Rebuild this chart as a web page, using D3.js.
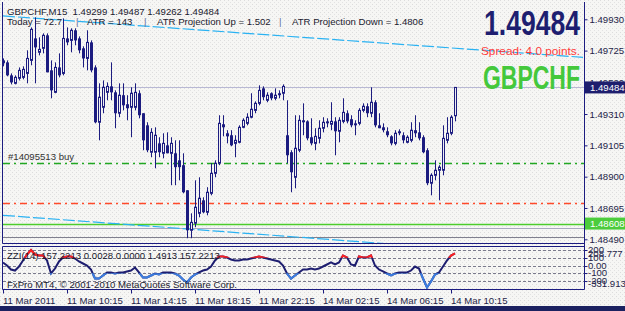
<!DOCTYPE html>
<html><head><meta charset="utf-8">
<script src="https://cdn.jsdelivr.net/npm/d3@7"></script>
<style>html,body{margin:0;padding:0;background:#f6f6f4;overflow:hidden}svg{display:block}text{font-family:"Liberation Sans",Arial,sans-serif}</style>
</head><body><svg id="c" width="625" height="311"></svg>
<script>
// ---------- DATA ----------
const sessions = [{day:"11 Mar", start:"06:15", end:"23:45"}, {day:"14 Mar", start:"00:00", end:"10:30"}];
const open = [
1.49661,1.49648,1.49563,1.49511,1.49544,1.49550,1.49576,1.49661,1.49805,1.49714,
1.49740,1.49825,1.49596,1.49452,1.49615,1.49576,1.49805,1.49792,1.49858,1.49805,
1.49740,1.49674,1.49779,1.49615,1.49256,1.49354,1.49452,1.49491,1.49452,1.49315,
1.49433,1.49374,1.49354,1.49354,1.49446,1.49315,1.49236,1.49060,1.49060,1.49118,
1.49053,1.49105,1.49053,1.49053,1.49007,1.48975,1.48811,1.48549,1.48595,1.48660,
1.48745,1.48667,1.48791,1.48922,1.48988,1.49243,1.49184,1.49171,1.49118,1.49125,
1.49223,1.49249,1.49289,1.49334,1.49380,1.49478,1.49400,1.49446,1.49413,1.49446,
1.49446,1.49171,1.49060,1.48896,1.49073,1.49269,1.49262,1.49158,1.49118,1.49151,
1.49217,1.49262,1.49243,1.49262,1.49197,1.49262,1.49315,1.49276,1.49249,1.49249,
1.49334,1.49361,1.49315,1.49387,1.49236,1.49223,1.49197,1.49164,1.49118,1.49197,
1.49171,1.49125,1.49138,1.49204,1.49190,1.49158,1.49073,1.48857,1.48909,1.48942,
1.48942,1.49138,1.49184,1.49299];
const high = [
1.49674,1.49661,1.49576,1.49563,1.49615,1.49622,1.49727,1.49877,1.49943,1.49812,
1.49838,1.49838,1.49661,1.49648,1.49707,1.49936,1.49877,1.49871,1.49871,1.49818,
1.49753,1.49858,1.49792,1.49629,1.49511,1.49530,1.49517,1.49648,1.49465,1.49511,
1.49511,1.49433,1.49485,1.49511,1.49465,1.49315,1.49256,1.49217,1.49223,1.49158,
1.49184,1.49190,1.49158,1.49138,1.49138,1.49053,1.48811,1.48660,1.48876,1.48896,
1.48765,1.48831,1.48988,1.49007,1.49302,1.49302,1.49204,1.49204,1.49171,1.49236,
1.49282,1.49315,1.49446,1.49393,1.49498,1.49491,1.49452,1.49452,1.49478,1.49465,
1.49504,1.49400,1.49073,1.49302,1.49302,1.49380,1.49269,1.49282,1.49217,1.49269,
1.49289,1.49282,1.49387,1.49289,1.49289,1.49413,1.49334,1.49302,1.49269,1.49348,
1.49380,1.49380,1.49485,1.49400,1.49315,1.49249,1.49223,1.49171,1.49204,1.49210,
1.49190,1.49171,1.49256,1.49302,1.49256,1.49171,1.49086,1.48922,1.49007,1.48975,
1.49236,1.49289,1.49302,1.49487];
const low = [
1.49622,1.49557,1.49504,1.49504,1.49530,1.49537,1.49511,1.49629,1.49511,1.49694,
1.49707,1.49583,1.49413,1.49446,1.49550,1.49563,1.49760,1.49714,1.49760,1.49707,
1.49615,1.49596,1.49583,1.49249,1.49138,1.49315,1.49400,1.49400,1.49217,1.49289,
1.49334,1.49269,1.49158,1.49334,1.49282,1.49073,1.49060,1.49027,1.48955,1.49027,
1.49020,1.49053,1.48844,1.48844,1.48876,1.48791,1.48497,1.48497,1.48569,1.48634,
1.48660,1.48647,1.48778,1.48896,1.48975,1.49164,1.49118,1.49099,1.49027,1.49118,
1.49217,1.49236,1.49282,1.49315,1.49367,1.49400,1.49387,1.49400,1.49400,1.49413,
1.49400,1.48988,1.48798,1.48824,1.49060,1.49171,1.49138,1.49105,1.49073,1.49118,
1.49190,1.49223,1.49204,1.49040,1.49125,1.49249,1.49249,1.49223,1.49171,1.49236,
1.49321,1.49289,1.49289,1.49223,1.49217,1.49190,1.49158,1.49105,1.49105,1.49171,
1.49118,1.49118,1.49125,1.49158,1.49138,1.49053,1.48844,1.48778,1.48876,1.48745,
1.48909,1.49118,1.49171,1.49262];
const close = [
1.49642,1.49563,1.49517,1.49550,1.49596,1.49602,1.49674,1.49864,1.49746,1.49733,
1.49825,1.49583,1.49465,1.49615,1.49563,1.49805,1.49779,1.49858,1.49792,1.49727,
1.49674,1.49779,1.49596,1.49256,1.49420,1.49485,1.49491,1.49452,1.49315,1.49433,
1.49367,1.49348,1.49446,1.49452,1.49302,1.49138,1.49073,1.49190,1.49171,1.49060,
1.49118,1.49053,1.49118,1.48962,1.48962,1.48798,1.48549,1.48601,1.48700,1.48759,
1.48667,1.48798,1.48922,1.48988,1.49249,1.49223,1.49164,1.49105,1.49138,1.49223,
1.49269,1.49289,1.49341,1.49380,1.49465,1.49420,1.49433,1.49413,1.49433,1.49433,
1.49491,1.49040,1.48929,1.49086,1.49269,1.49256,1.49151,1.49118,1.49164,1.49217,
1.49256,1.49249,1.49262,1.49197,1.49269,1.49321,1.49262,1.49236,1.49236,1.49334,
1.49361,1.49315,1.49387,1.49236,1.49217,1.49204,1.49171,1.49118,1.49184,1.49184,
1.49138,1.49158,1.49204,1.49184,1.49151,1.49060,1.48857,1.48909,1.48942,1.48962,
1.49151,1.49184,1.49289,1.49484];
const zzi = [
39,0,-52,-65,-13,65,142,200,142,129,
129,65,-103,-39,52,103,116,116,90,52,
26,0,-52,-168,-168,-129,-90,-90,-103,-90,
-90,-77,-65,-26,-90,-155,-155,-129,-103,-116,
-90,-90,-90,-103,-129,-181,-219,-155,-116,-90,
-65,-52,-13,65,116,116,103,77,65,65,
77,77,90,103,116,103,90,77,65,52,
0,-103,-168,-129,-90,-52,-52,-39,-52,-39,
-13,13,39,13,39,129,103,13,0,116,
103,103,129,0,-52,-77,-103,-129,-103,-90,
-90,-90,-65,-13,-39,-168,-284,-206,-116,-90,
-13,65,129,157.2213];
const priceTicks = [1.49930, 1.49725, 1.49520, 1.49310, 1.49105, 1.48900, 1.48695, 1.48490];
const timeTickBars = ["11 Mar 06:15","11 Mar 10:15","11 Mar 14:15","11 Mar 18:15","11 Mar 22:15","14 Mar 02:15","14 Mar 06:15","14 Mar 10:15"];
const timeTickLabels = ["11 Mar 2011","11 Mar 10:15","11 Mar 14:15","11 Mar 18:15","11 Mar 22:15","14 Mar 02:15","14 Mar 06:15","14 Mar 10:15"];
const zziLevels = [200, 100, 0, -100, -200];
const zziLevelLabels = ["200", "100", "0.00", "-100", "-200"];
const zziMax = "208.777", zziMin = "-331.913";
const hLinePrices = [1.49484, 1.48990, 1.48730, 1.48593, 1.48564, 1.48505];
const atrUpLine = [[0, 1.49952], [145, 1.49681]];
const atrDownLine = [[0, 1.48647], [145, 1.48366]];
const bidPrice = 1.49484, greenTagText = "1.48608";
const headerLine1 = "GBPCHF,M15  1.49299 1.49487 1.49262 1.49484";
const headerLine2 = ["Today = 72.7", "|", "ATR = 143", "|", "ATR Projection Up = 1.502", "|", "ATR Projection Down = 1.4806"];
const orderLabel = "#14095513 buy";
const bigPrice = "1.49484", spreadText = "Spread: 4.0 points.", bigSymbol = "GBPCHF";
const zziTitle = "ZZI(14) 157.2213 0.0028 0.0000 1.4913 157.2213";
const copyright = "FxPro MT4, \u00A9 2001-2010 MetaQuotes Software Corp.";

// ---------- LAYOUT ----------
const L = 3, R = 584, mainTop = 2, mainBot = 243.5, indTop = 246.5, indBot = 289.5;
const navy = "#1c1c80", bg = "#f6f6f4";
const svg = d3.select("#c");
const defs = svg.append("defs");
const pat = defs.append("pattern").attr("id","dots").attr("width",4).attr("height",4).attr("patternUnits","userSpaceOnUse");
pat.append("rect").attr("width",1).attr("height",1).attr("fill","#dcdcdc");
pat.append("rect").attr("x",2).attr("y",2).attr("width",1).attr("height",1).attr("fill","#e2e2e2");
defs.append("clipPath").attr("id","mainClip").append("rect").attr("x",L).attr("y",mainTop).attr("width",R-L).attr("height",mainBot-mainTop);
defs.append("clipPath").attr("id","indClip").append("rect").attr("x",L).attr("y",indTop).attr("width",R-L).attr("height",indBot-indTop);

svg.append("rect").attr("width",625).attr("height",311).attr("fill",bg);
svg.append("rect").attr("width",625).attr("height",306).attr("fill","url(#dots)");
svg.append("rect").attr("x",0).attr("y",306).attr("width",625).attr("height",5).attr("fill","#1b2160");

// times
const toMin = s => { const [h,m] = s.split(":").map(Number); return h*60+m; };
const times = [];
sessions.forEach(s => { for (let m = toMin(s.start); m <= toMin(s.end); m += 15)
  times.push(s.day + " " + String(Math.floor(m/60)).padStart(2,"0") + ":" + String(m%60).padStart(2,"0")); });

const x = d3.scaleBand().domain(times).range([1, 1 + 4*times.length]).paddingInner(0).paddingOuter(0);
const cx = t => x(t) + x.bandwidth()/2;
const xi = d3.scaleLinear().domain([0, 1]).range([cx(times[0]), cx(times[1])]);
const y = d3.scaleLinear().domain([1.48490, 1.49930]).range([239.3, 19.3]);
const yz = d3.scaleLinear().domain([-200, 200]).range([281, 250]);

const data = times.map((t,i) => ({t, o:open[i], h:high[i], l:low[i], c:close[i], z:zzi[i]}));

// ---------- MAIN PANEL ----------
const main = svg.append("g").attr("clip-path","url(#mainClip)");
const hStyles = [
  {c:"#b8b8d4", d:null, w:1},
  {c:"#22a822", d:"7,4,2,4", w:1.3},
  {c:"#ff4a2a", d:"7,4,2,4", w:1.3},
  {c:"#4ccc2c", d:null, w:1.5},
  {c:"#a8a8c0", d:null, w:1},
  {c:"#80808e", d:null, w:1}];
const hl = main.append("g");
hLinePrices.forEach((p, i) => {
  hl.append("line").attr("x1",L).attr("x2",R)
    .attr("y1",Math.round(y(p))+0.5).attr("y2",Math.round(y(p))+0.5)
    .style("stroke",hStyles[i].c).style("stroke-width",hStyles[i].w)
    .style("stroke-dasharray",hStyles[i].d || "none");
});
[atrUpLine, atrDownLine].forEach(ln => {
  main.append("path").attr("d", d3.line().x(d=>xi(d[0])).y(d=>y(d[1]))(ln))
    .attr("fill","none").attr("stroke","#2ab2f2").attr("stroke-width",1.2).attr("stroke-dasharray","12,3");
});
const cg = main.append("g");
cg.selectAll("line.w").data(data).join("line").attr("class","w")
  .attr("x1",d=>cx(d.t)+0.5).attr("x2",d=>cx(d.t)+0.5).attr("y1",d=>y(d.h)).attr("y2",d=>y(d.l))
  .attr("stroke",navy).attr("stroke-width",1);
cg.selectAll("rect.b").data(data).join("rect").attr("class","b")
  .attr("x",d=>d.c>=d.o ? cx(d.t)-0.5 : cx(d.t)-1)
  .attr("width",d=>d.c>=d.o ? 2 : 3)
  .attr("y",d=>y(Math.max(d.o,d.c)))
  .attr("height",d=>Math.max(1, Math.abs(y(d.o)-y(d.c))))
  .attr("fill",d=>d.c>=d.o ? "#eeeef0" : navy)
  .attr("stroke",d=>d.c>=d.o ? navy : "none").attr("stroke-width",1);

// texts on main
const txt = "#1a1a2e";
svg.append("text").attr("x",7).attr("y",15).attr("font-size","9.6px").attr("fill",txt)
  .attr("xml:space","preserve").text(headerLine1);
const h2x = [7, 76, 87, 144, 157, 279, 292];
svg.selectAll("text.h2").data(headerLine2).join("text").attr("class","h2").attr("x",(d,i)=>h2x[i]).attr("y",25)
  .attr("font-size","9.6px").attr("fill",(d)=>d==="|" ? "#6070a0" : txt).text(d=>d);
svg.append("text").attr("x",8).attr("y",160).attr("font-size","9.6px").attr("fill","#333").text(orderLabel);
svg.append("text").attr("x",484).attr("y",35).attr("font-size","35px").attr("font-weight","bold")
  .attr("fill","#1e1e70").attr("textLength",96).attr("lengthAdjust","spacingAndGlyphs").text(bigPrice);
svg.append("text").attr("x",481).attr("y",55).attr("font-size","11px").attr("fill","#ff3b3b")
  .attr("textLength",99).attr("lengthAdjust","spacingAndGlyphs").text(spreadText);
svg.append("text").attr("x",483).attr("y",89).attr("font-size","33.5px").attr("font-weight","bold")
  .attr("fill","#44c83c").attr("textLength",97).attr("lengthAdjust","spacingAndGlyphs").text(bigSymbol);

// ---------- INDICATOR PANEL ----------
const ind = svg.append("g").attr("clip-path","url(#indClip)");
ind.selectAll("line.lv").data(zziLevels).join("line").attr("class","lv")
  .attr("x1",L).attr("x2",R).attr("y1",d=>Math.round(yz(d))+0.5).attr("y2",d=>Math.round(yz(d))+0.5)
  .attr("stroke","#7a7a8c").attr("stroke-dasharray","3,2");
const zLine = d3.line().x(d=>cx(d.t)).y(d=>yz(d.z));
defs.append("clipPath").attr("id","redClip").append("rect").attr("x",L).attr("y",indTop).attr("width",R-L).attr("height",yz(100)-indTop);
defs.append("clipPath").attr("id","blueClip").append("rect").attr("x",L).attr("y",yz(-100)).attr("width",R-L).attr("height",indBot-yz(-100));
ind.append("path").attr("d",zLine(data)).attr("fill","none").attr("stroke","#1e1e70").attr("stroke-width",2);
ind.append("g").attr("clip-path","url(#redClip)").append("path").attr("d",zLine(data)).attr("fill","none").attr("stroke","#ff2020").attr("stroke-width",2);
ind.append("g").attr("clip-path","url(#blueClip)").append("path").attr("d",zLine(data)).attr("fill","none").attr("stroke","#3c7ee0").attr("stroke-width",2);
svg.append("text").attr("x",7).attr("y",259).attr("font-size","9.6px").attr("fill",txt).text(zziTitle);
svg.append("text").attr("x",7).attr("y",288).attr("font-size","9.6px").attr("fill",txt).text(copyright);

// ---------- FRAMES ----------
const fr = svg.append("g").attr("stroke",navy).attr("stroke-width",1);
fr.append("line").attr("x1",2.5).attr("x2",2.5).attr("y1",2).attr("y2",mainBot);
fr.append("line").attr("x1",2.5).attr("x2",2.5).attr("y1",indTop).attr("y2",indBot);
fr.append("line").attr("x1",2.5).attr("x2",R+0.5).attr("y1",mainBot).attr("y2",mainBot);
fr.append("line").attr("x1",2.5).attr("x2",R+0.5).attr("y1",indTop).attr("y2",indTop);
fr.append("line").attr("x1",2.5).attr("x2",R+0.5).attr("y1",indBot).attr("y2",indBot);
fr.append("line").attr("x1",R+0.5).attr("x2",R+0.5).attr("y1",2).attr("y2",indBot);

// ---------- AXES ----------
const axTxt = "#1e1e48";
const yAxis = d3.axisRight(y).tickValues(priceTicks).tickFormat(d3.format(".5f")).tickSize(3).tickPadding(2);
const ya = svg.append("g").attr("transform",`translate(${R+0.5},0)`).call(yAxis);
ya.select(".domain").remove();
ya.selectAll("line").attr("stroke",navy);
ya.selectAll("text").attr("font-size","9.6px").attr("fill",axTxt).attr("font-family","Liberation Sans, Arial");

// price tags
const tags = [{p:bidPrice, t:bidPrice.toFixed(5), bg:"#1e1e6e"}, {p:hLinePrices[3], t:greenTagText, bg:"#4ccc3c"}];
const tg = svg.selectAll("g.tag").data(tags).join("g").attr("class","tag");
tg.append("rect").attr("x",R+1).attr("y",d=>y(d.p)-6).attr("width",625-R).attr("height",12).attr("fill",d=>d.bg);
tg.append("text").attr("x",R+6).attr("y",d=>y(d.p)+3.5).attr("font-size","9.6px").attr("fill","#fff").text(d=>d.t);

// indicator right labels
svg.selectAll("text.zl").data(zziLevels).join("text").attr("class","zl").attr("x",R+4).attr("y",d=>yz(d)+3)
  .attr("font-size","9.6px").attr("fill",axTxt).text((d,i)=>zziLevelLabels[i]);
svg.append("text").attr("x",R+4).attr("y",yz(200)+7).attr("font-size","9.6px").attr("fill",axTxt).text(zziMax);
svg.append("text").attr("x",R+4).attr("y",yz(-200)+6).attr("font-size","9.6px").attr("fill",axTxt).text(zziMin);
svg.selectAll("line.zt").data(zziLevels).join("line").attr("class","zt").attr("x1",R+0.5).attr("x2",R+3.5)
  .attr("y1",d=>Math.round(yz(d))+0.5).attr("y2",d=>Math.round(yz(d))+0.5).attr("stroke",navy);

// time axis
const xAxis = d3.axisBottom(x).tickValues(timeTickBars).tickFormat((d,i)=>timeTickLabels[i]).tickSize(4).tickPadding(4);
const xa = svg.append("g").attr("transform",`translate(0.5,${indBot})`).call(xAxis);
xa.select(".domain").remove();
xa.selectAll("line").attr("stroke",navy);
xa.selectAll("text").attr("font-size","9.6px").attr("fill",axTxt).attr("text-anchor","start").attr("x",-0.5).attr("font-family","Liberation Sans, Arial");
</script>
</body></html>
